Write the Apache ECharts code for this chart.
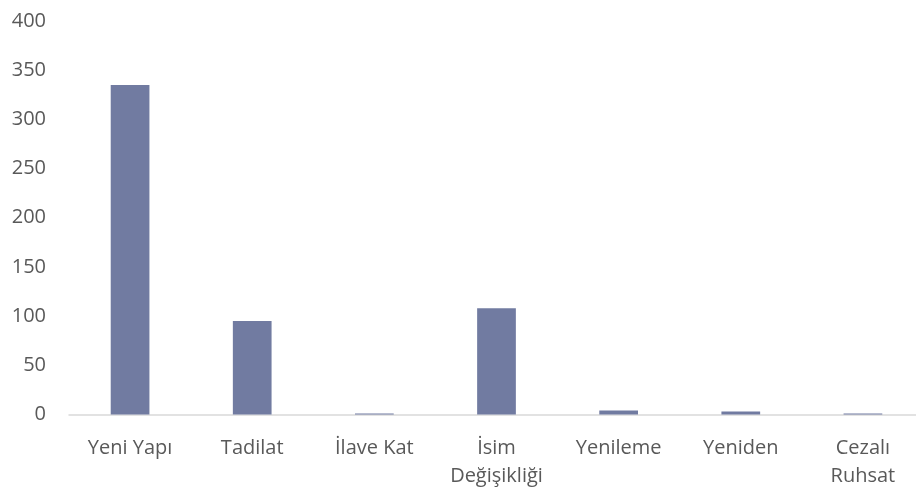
<!DOCTYPE html>
<html>
<head>
<meta charset="utf-8">
<script src="https://cdn.jsdelivr.net/npm/echarts@6/dist/echarts.min.js"></script>
<style>
  html, body { margin: 0; padding: 0; background: #ffffff; }
  #chart { width: 916px; height: 489px; }
</style>
</head>
<body>
<div id="chart"></div>
<script>
// Permit types and their counts
const categories = ['Yeni Yapı', 'Tadilat', 'İlave Kat', 'İsim\nDeğişikliği', 'Yenileme', 'Yeniden', 'Cezalı\nRuhsat'];
const counts = [335, 95, 1, 108, 4, 3, 1];
const yTicks = { min: 0, max: 400, interval: 50 };

const textColor = '#595959';
const fontFamily = '"Open Sans", sans-serif';

const chart = echarts.init(document.getElementById('chart'), null, { renderer: 'canvas' });
chart.setOption({
  animation: false,
  backgroundColor: '#ffffff',
  grid: {
    left: 69, top: 21, width: 855, height: 393.5,
    containLabel: false,
    outerBoundsMode: 'none'
  },
  xAxis: {
    type: 'category',
    data: categories,
    axisLine: { show: true, lineStyle: { color: '#d9d9d9', width: 1.5 } },
    axisTick: { show: false },
    axisLabel: {
      color: textColor,
      fontFamily: fontFamily,
      fontSize: 20,
      lineHeight: 28,
      margin: 20,
      interval: 0
    }
  },
  yAxis: {
    type: 'value',
    min: yTicks.min,
    max: yTicks.max,
    interval: yTicks.interval,
    axisLine: { show: false },
    axisTick: { show: false },
    splitLine: { show: false },
    axisLabel: {
      color: textColor,
      fontFamily: fontFamily,
      fontSize: 20,
      margin: 23
    }
  },
  series: [{
    type: 'bar',
    data: counts,
    barWidth: '31.7%',
    itemStyle: { color: '#717ba1' }
  }]
});
</script>
</body>
</html>
